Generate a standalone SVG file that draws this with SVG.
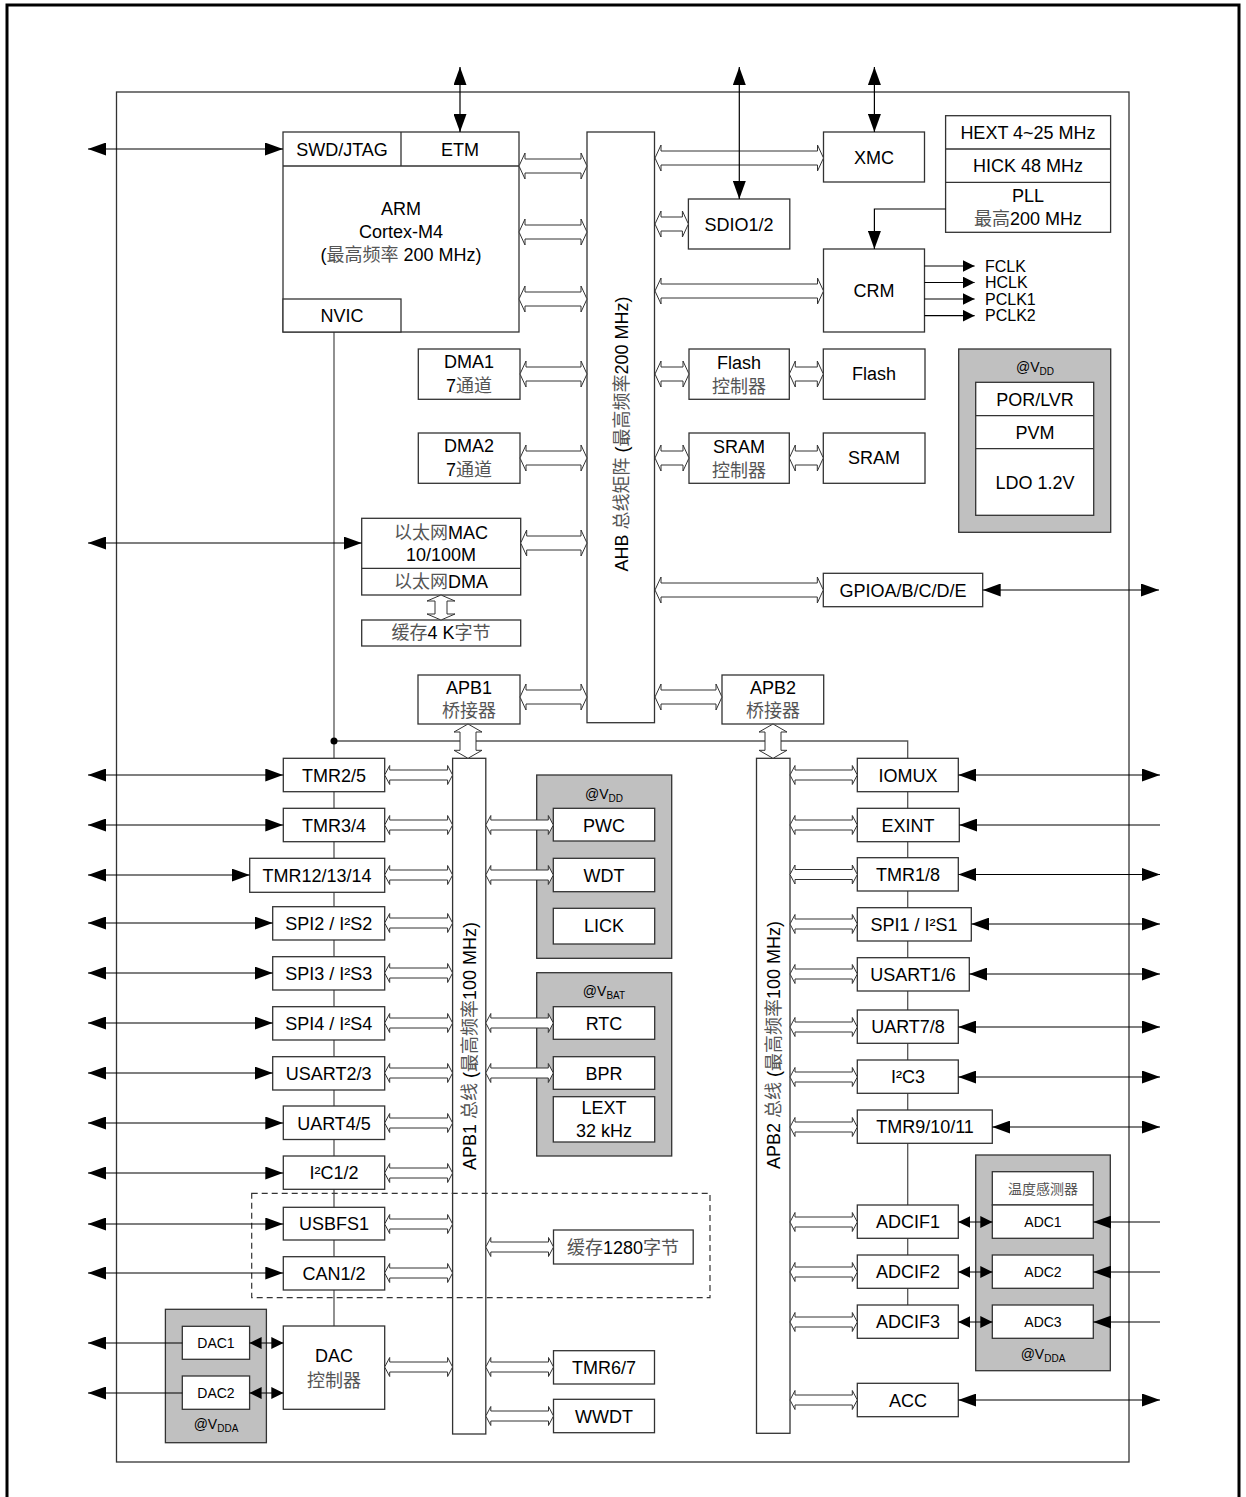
<svg xmlns="http://www.w3.org/2000/svg" width="1246" height="1497" viewBox="0 0 1246 1497">
<style>
.b{fill:#fff;stroke:#333;stroke-width:1.3}
.g{fill:#c0c0c0;stroke:#333;stroke-width:1.3}
.ho{fill:#fff;stroke:#333;stroke-width:1}
.ln{stroke:#000;stroke-width:1.2;fill:none}
.gl{stroke:#555;stroke-width:1.3;fill:none}
text{font-family:"Liberation Sans","Noto Sans CJK SC",sans-serif;font-size:18px;text-anchor:middle;fill:#000}
.cn{fill:#555}
.s{font-size:14px}
.st{text-anchor:start;font-size:16px}
</style>
<defs>
<marker id="ab" markerUnits="userSpaceOnUse" markerWidth="18" markerHeight="13" refX="18" refY="6.5" orient="auto-start-reverse"><path d="M0,0 L18,6.5 L0,13 z" fill="#000"/></marker>
<marker id="as" markerUnits="userSpaceOnUse" markerWidth="12" markerHeight="12" refX="12" refY="6" orient="auto-start-reverse"><path d="M0,0 L12,6 L0,12 z" fill="#000"/></marker>
</defs>
<rect width="1246" height="1497" fill="#fff"/>
<path d="M7,1500 V5 H1239 V1500" fill="none" stroke="#000" stroke-width="3"/>
<rect id="chip" x="116.5" y="92" width="1012.5" height="1370" fill="none" stroke="#333" stroke-width="1.3"/>

<g id="buslines">
<path class="gl" d="M334,332 V1326"/>
<path class="gl" d="M334,741 H907.7 V1305"/>
<circle cx="334" cy="741" r="3.5" fill="#000"/>
</g>

<g id="cortex">
<rect class="b" x="283" y="132" width="236" height="200"/>
<path class="b" d="M283,166 H519 M401,132 V166"/>
<rect class="b" x="283" y="299" width="118" height="33"/>
<text x="342" y="155.5">SWD/JTAG</text>
<text x="460" y="155.5">ETM</text>
<text x="401" y="215">ARM</text>
<text x="401" y="238">Cortex-M4</text>
<text x="401" y="261">(<tspan class="cn">最高频率</tspan> 200 MHz)</text>
<text x="342" y="321.5">NVIC</text>
</g>
<g id="ahb"><rect class="b" x="587" y="132" width="67.5" height="590.7"/>
<text transform="translate(628,434) rotate(-90)">AHB <tspan class="cn">总线矩阵</tspan> (<tspan class="cn">最高频率</tspan>200 MHz)</text></g>
<g id="xmc"><rect class="b" x="823.5" y="132" width="101" height="50"/><text x="874" y="163.5">XMC</text></g>
<g id="sdio"><rect class="b" x="688.4" y="199" width="101.4" height="50"/><text x="739" y="230.5">SDIO1/2</text></g>
<g id="clock"><rect class="b" x="945.6" y="115.7" width="165" height="116.6"/>
<path class="b" d="M945.6,149 H1110.6 M945.6,182.3 H1110.6"/>
<text x="1028" y="138.5">HEXT 4~25 MHz</text>
<text x="1028" y="172">HICK 48 MHz</text>
<text x="1028" y="202">PLL</text>
<text x="1028" y="224.5"><tspan class="cn">最高</tspan>200 MHz</text></g>
<g id="crm"><rect class="b" x="823.5" y="249" width="101" height="83"/><text x="874" y="297">CRM</text>
<text class="st" x="985" y="271.5">FCLK</text><text class="st" x="985" y="288">HCLK</text><text class="st" x="985" y="304.5">PCLK1</text><text class="st" x="985" y="321">PCLK2</text></g>
<g id="dma1"><rect class="b" x="418.3" y="349" width="101.7" height="50.3"/><text x="469" y="368">DMA1</text><text x="469" y="391.5">7<tspan class="cn">通道</tspan></text></g>
<g id="dma2"><rect class="b" x="418.3" y="433" width="101.7" height="50.3"/><text x="469" y="452">DMA2</text><text x="469" y="475.5">7<tspan class="cn">通道</tspan></text></g>
<g id="flashctrl"><rect class="b" x="689" y="349" width="100.3" height="50.3"/><text x="739" y="369">Flash</text><text x="739" y="392.5" class="cn">控制器</text></g>
<g id="flash"><rect class="b" x="823.3" y="349" width="101.7" height="50.3"/><text x="874" y="380">Flash</text></g>
<g id="sramctrl"><rect class="b" x="689" y="433" width="100.3" height="50.3"/><text x="739" y="453">SRAM</text><text x="739" y="476.5" class="cn">控制器</text></g>
<g id="sram"><rect class="b" x="823.3" y="433" width="101.7" height="50.3"/><text x="874" y="464">SRAM</text></g>
<g id="eth"><rect class="b" x="361.7" y="518.3" width="159" height="76.7"/><path class="b" d="M361.7,568.3 H520.7"/>
<text x="441" y="539"><tspan class="cn">以太网</tspan>MAC</text><text x="441" y="561">10/100M</text><text x="441" y="587.5"><tspan class="cn">以太网</tspan>DMA</text></g>
<g id="ethbuf"><rect class="b" x="361.7" y="620" width="159" height="26"/><text x="441" y="638.5"><tspan class="cn">缓存</tspan>4 K<tspan class="cn">字节</tspan></text></g>
<g id="gpio"><rect class="b" x="823.3" y="573.3" width="159.4" height="33.4"/><text x="903" y="596.5">GPIOA/B/C/D/E</text></g>
<g id="vdd1"><rect class="g" x="958.7" y="349" width="152" height="183.3"/><text class="s" x="1035" y="371.5">@V<tspan font-size="10" dy="3">DD</tspan></text>
<rect class="b" x="975.7" y="382.3" width="118" height="133"/><path class="b" d="M975.7,415.7 H1093.7 M975.7,448.7 H1093.7"/>
<text x="1035" y="405.5">POR/LVR</text><text x="1035" y="438.5">PVM</text><text x="1035" y="488.5">LDO 1.2V</text></g>
<g id="apb1br"><rect class="b" x="418" y="675" width="102" height="49"/><text x="469" y="694">APB1</text><text x="469" y="716.5" class="cn">桥接器</text></g>
<g id="apb2br"><rect class="b" x="722" y="675" width="101.7" height="49"/><text x="773" y="694">APB2</text><text x="773" y="716.5" class="cn">桥接器</text></g>
<g id="apb1"><rect class="b" x="452.6" y="758.3" width="33.2" height="675.7"/>
<text transform="translate(476,1046) rotate(-90)">APB1 <tspan class="cn">总线</tspan> (<tspan class="cn">最高频率</tspan>100 MHz)</text></g>
<g id="apb2"><rect class="b" x="756.5" y="758.3" width="33.5" height="675"/>
<text transform="translate(780,1045) rotate(-90)">APB2 <tspan class="cn">总线</tspan> (<tspan class="cn">最高频率</tspan>100 MHz)</text></g>

<g id="tmr25"><rect class="b" x="283.3" y="758.3" width="101.4" height="33.4"/><text x="334" y="781.5">TMR2/5</text></g>
<g id="tmr34"><rect class="b" x="283.3" y="808.3" width="101.4" height="33.4"/><text x="334" y="831.5">TMR3/4</text></g>
<g id="tmr12"><rect class="b" x="249.7" y="858.3" width="135" height="34"/><text x="317" y="881.5">TMR12/13/14</text></g>
<g id="spi2"><rect class="b" x="272.7" y="906.7" width="112" height="33.3"/><text x="328.7" y="929.5">SPI2 / I²S2</text></g>
<g id="spi3"><rect class="b" x="272.7" y="956.7" width="112" height="33.3"/><text x="328.7" y="979.5">SPI3 / I²S3</text></g>
<g id="spi4"><rect class="b" x="272.7" y="1006.7" width="112" height="33.3"/><text x="328.7" y="1029.5">SPI4 / I²S4</text></g>
<g id="usart23"><rect class="b" x="272.7" y="1056.7" width="112" height="33.3"/><text x="328.7" y="1079.5">USART2/3</text></g>
<g id="uart45"><rect class="b" x="283.3" y="1106" width="101.4" height="33.5"/><text x="334" y="1129.5">UART4/5</text></g>
<g id="i2c12"><rect class="b" x="283.3" y="1156" width="101.4" height="33.3"/><text x="334" y="1179">I²C1/2</text></g>
<rect id="usbgroup" x="251.7" y="1193.3" width="458.3" height="104.4" fill="none" stroke="#333" stroke-width="1.2" stroke-dasharray="6,4"/>
<g id="usbfs1"><rect class="b" x="283.3" y="1207.3" width="101.4" height="32.7"/><text x="334" y="1230">USBFS1</text></g>
<g id="can12"><rect class="b" x="283.3" y="1256.7" width="101.4" height="33.3"/><text x="334" y="1279.5">CAN1/2</text></g>
<g id="usbbuf"><rect class="b" x="553.5" y="1230" width="139.7" height="34"/><text x="623" y="1253.5"><tspan class="cn">缓存</tspan>1280<tspan class="cn">字节</tspan></text></g>
<g id="dacctrl"><rect class="b" x="283.3" y="1326" width="101.4" height="83.3"/><text x="334" y="1362">DAC</text><text x="334" y="1386.5" class="cn">控制器</text></g>
<g id="dacvdda"><rect class="g" x="165.4" y="1309.3" width="101" height="133.4"/>
<rect class="b" x="182.3" y="1326.3" width="67.3" height="33"/><text class="s" x="216" y="1348">DAC1</text>
<rect class="b" x="182.3" y="1376" width="67.3" height="33.3"/><text class="s" x="216" y="1398">DAC2</text>
<text class="s" x="216" y="1429">@V<tspan font-size="10" dy="3">DDA</tspan></text></g>
<g id="vdd2"><rect class="g" x="536.7" y="775" width="135" height="183.3"/><text class="s" x="604" y="798.5">@V<tspan font-size="10" dy="3">DD</tspan></text>
<rect class="b" x="553.3" y="808.3" width="101.4" height="32.7"/><text x="604" y="831.5">PWC</text>
<rect class="b" x="553.3" y="858.3" width="101.4" height="33.4"/><text x="604" y="881.5">WDT</text>
<rect class="b" x="553.3" y="908.3" width="101.4" height="35.7"/><text x="604" y="932">LICK</text></g>
<g id="vbat"><rect class="g" x="536.7" y="972.7" width="135" height="183.3"/><text class="s" x="604" y="996">@V<tspan font-size="10" dy="3">BAT</tspan></text>
<rect class="b" x="553.3" y="1006.7" width="101.4" height="32.6"/><text x="604" y="1029.5">RTC</text>
<rect class="b" x="553.3" y="1056.7" width="101.4" height="32.6"/><text x="604" y="1079.5">BPR</text>
<rect class="b" x="553.3" y="1096.7" width="101.4" height="45.3"/><text x="604" y="1114">LEXT</text><text x="604" y="1136.5">32 kHz</text></g>
<g id="tmr67"><rect class="b" x="553.5" y="1350.7" width="101" height="33.3"/><text x="604" y="1373.5">TMR6/7</text></g>
<g id="wwdt"><rect class="b" x="553.5" y="1399.3" width="101" height="33.4"/><text x="604" y="1422.5">WWDT</text></g>

<g id="iomux"><rect class="b" x="857.3" y="758.3" width="101" height="33.4"/><text x="908" y="781.5">IOMUX</text></g>
<g id="exint"><rect class="b" x="857.3" y="808.3" width="102" height="33.4"/><text x="908" y="831.5">EXINT</text></g>
<g id="tmr18"><rect class="b" x="857.3" y="857.7" width="101" height="33.3"/><text x="908" y="881">TMR1/8</text></g>
<g id="spi1"><rect class="b" x="857.3" y="907.7" width="114" height="33.3"/><text x="914" y="930.5">SPI1 / I²S1</text></g>
<g id="usart16"><rect class="b" x="857.3" y="957.7" width="112" height="33.3"/><text x="913" y="980.5">USART1/6</text></g>
<g id="uart78"><rect class="b" x="857.3" y="1010" width="101" height="33.3"/><text x="908" y="1033">UART7/8</text></g>
<g id="i2c3"><rect class="b" x="857.3" y="1060" width="101" height="33.3"/><text x="908" y="1083">I²C3</text></g>
<g id="tmr9"><rect class="b" x="857.3" y="1110" width="135" height="33.3"/><text x="925" y="1133">TMR9/10/11</text></g>
<g id="adcif1"><rect class="b" x="857.3" y="1205" width="101" height="33.3"/><text x="908" y="1228">ADCIF1</text></g>
<g id="adcif2"><rect class="b" x="857.3" y="1255" width="101" height="33.3"/><text x="908" y="1278">ADCIF2</text></g>
<g id="adcif3"><rect class="b" x="857.3" y="1305" width="101" height="33.3"/><text x="908" y="1328">ADCIF3</text></g>
<g id="acc"><rect class="b" x="857.3" y="1383.3" width="101" height="33.4"/><text x="908" y="1406.5">ACC</text></g>
<g id="adcvdda"><rect class="g" x="975.7" y="1155" width="134.6" height="215.7"/>
<rect class="b" x="992.3" y="1171.7" width="101" height="33.3"/><text class="s cn" x="1043" y="1193.5">温度感测器</text>
<rect class="b" x="992.3" y="1205" width="101" height="33.3"/><text class="s" x="1043" y="1226.7">ADC1</text>
<rect class="b" x="992.3" y="1255" width="101" height="33.3"/><text class="s" x="1043" y="1276.7">ADC2</text>
<rect class="b" x="992.3" y="1305" width="101" height="33.3"/><text class="s" x="1043" y="1326.7">ADC3</text>
<text class="s" x="1043" y="1358.5">@V<tspan font-size="10" dy="3">DDA</tspan></text></g>

<g id="connectors">
<g class="ho">
<path d="M519,166 l6,-13 v6 h56 v-6 l6,13 l-6,13 v-6 h-56 v6 z"/>
<path d="M519,232 l6,-13 v6 h56 v-6 l6,13 l-6,13 v-6 h-56 v6 z"/>
<path d="M519,299 l6,-13 v6 h56 v-6 l6,13 l-6,13 v-6 h-56 v6 z"/>
<path d="M655,158 l6,-13 v6 h156.5 v-6 l6,13 l-6,13 v-6 h-156.5 v6 z"/>
<path d="M655,224 l6,-13 v6 h21.4 v-6 l6,13 l-6,13 v-6 h-21.4 v6 z"/>
<path d="M655,291 l6,-13 v6 h156.5 v-6 l6,13 l-6,13 v-6 h-156.5 v6 z"/>
<path d="M520,374 l6,-13 v6 h55 v-6 l6,13 l-6,13 v-6 h-55 v6 z"/>
<path d="M520,458 l6,-13 v6 h55 v-6 l6,13 l-6,13 v-6 h-55 v6 z"/>
<path d="M655,374 l6,-13 v6 h22 v-6 l6,13 l-6,13 v-6 h-22 v6 z"/>
<path d="M789.3,374 l6,-13 v6 h22 v-6 l6,13 l-6,13 v-6 h-22 v6 z"/>
<path d="M655,458 l6,-13 v6 h22 v-6 l6,13 l-6,13 v-6 h-22 v6 z"/>
<path d="M789.3,458 l6,-13 v6 h22 v-6 l6,13 l-6,13 v-6 h-22 v6 z"/>
<path d="M520.7,543 l6,-13 v6 h54.3 v-6 l6,13 l-6,13 v-6 h-54.3 v6 z"/>
<path d="M655,590 l6,-13 v6 h156.3 v-6 l6,13 l-6,13 v-6 h-156.3 v6 z"/>
<path d="M520,697 l6,-13 v6 h55 v-6 l6,13 l-6,13 v-6 h-55 v6 z"/>
<path d="M655,697 l6,-13 v6 h55 v-6 l6,13 l-6,13 v-6 h-55 v6 z"/>
<path d="M441,595 l14,6 h-8 v13 h8 l-14,6 l-14,-6 h8 v-13 h-8 z"/>
<path d="M468,724 l14,8 h-6 v18.3 h6 l-14,8 l-14,-8 h6 v-18.3 h-6 z"/>
<path d="M773,724 l14,8 h-6 v18.3 h6 l-14,8 l-14,-8 h6 v-18.3 h-6 z"/>
<path d="M384.7,775 l5,-9.5 v4.5 h57.9 v-4.5 l5,9.5 l-5,9.5 v-4.5 h-57.9 v4.5 z"/>
<path d="M384.7,825 l5,-9.5 v4.5 h57.9 v-4.5 l5,9.5 l-5,9.5 v-4.5 h-57.9 v4.5 z"/>
<path d="M384.7,875 l5,-9.5 v4.5 h57.9 v-4.5 l5,9.5 l-5,9.5 v-4.5 h-57.9 v4.5 z"/>
<path d="M384.7,923 l5,-9.5 v4.5 h57.9 v-4.5 l5,9.5 l-5,9.5 v-4.5 h-57.9 v4.5 z"/>
<path d="M384.7,973 l5,-9.5 v4.5 h57.9 v-4.5 l5,9.5 l-5,9.5 v-4.5 h-57.9 v4.5 z"/>
<path d="M384.7,1023 l5,-9.5 v4.5 h57.9 v-4.5 l5,9.5 l-5,9.5 v-4.5 h-57.9 v4.5 z"/>
<path d="M384.7,1073 l5,-9.5 v4.5 h57.9 v-4.5 l5,9.5 l-5,9.5 v-4.5 h-57.9 v4.5 z"/>
<path d="M384.7,1123 l5,-9.5 v4.5 h57.9 v-4.5 l5,9.5 l-5,9.5 v-4.5 h-57.9 v4.5 z"/>
<path d="M384.7,1173 l5,-9.5 v4.5 h57.9 v-4.5 l5,9.5 l-5,9.5 v-4.5 h-57.9 v4.5 z"/>
<path d="M384.7,1224 l5,-9.5 v4.5 h57.9 v-4.5 l5,9.5 l-5,9.5 v-4.5 h-57.9 v4.5 z"/>
<path d="M384.7,1273 l5,-9.5 v4.5 h57.9 v-4.5 l5,9.5 l-5,9.5 v-4.5 h-57.9 v4.5 z"/>
<path d="M384.7,1367 l5,-9.5 v4.5 h57.9 v-4.5 l5,9.5 l-5,9.5 v-4.5 h-57.9 v4.5 z"/>
<path d="M485.8,825 l5,-9.5 v4.5 h57.5 v-4.5 l5,9.5 l-5,9.5 v-4.5 h-57.5 v4.5 z"/>
<path d="M485.8,875 l5,-9.5 v4.5 h57.5 v-4.5 l5,9.5 l-5,9.5 v-4.5 h-57.5 v4.5 z"/>
<path d="M485.8,1023 l5,-9.5 v4.5 h57.5 v-4.5 l5,9.5 l-5,9.5 v-4.5 h-57.5 v4.5 z"/>
<path d="M485.8,1073 l5,-9.5 v4.5 h57.5 v-4.5 l5,9.5 l-5,9.5 v-4.5 h-57.5 v4.5 z"/>
<path d="M485.8,1247 l5,-9.5 v4.5 h57.7 v-4.5 l5,9.5 l-5,9.5 v-4.5 h-57.7 v4.5 z"/>
<path d="M485.8,1367 l5,-9.5 v4.5 h57.7 v-4.5 l5,9.5 l-5,9.5 v-4.5 h-57.7 v4.5 z"/>
<path d="M485.8,1416 l5,-9.5 v4.5 h57.7 v-4.5 l5,9.5 l-5,9.5 v-4.5 h-57.7 v4.5 z"/>
<path d="M790,775 l5,-9.5 v4.5 h57.3 v-4.5 l5,9.5 l-5,9.5 v-4.5 h-57.3 v4.5 z"/>
<path d="M790,825 l5,-9.5 v4.5 h57.3 v-4.5 l5,9.5 l-5,9.5 v-4.5 h-57.3 v4.5 z"/>
<path d="M790,874.5 l5,-9.5 v4.5 h57.3 v-4.5 l5,9.5 l-5,9.5 v-4.5 h-57.3 v4.5 z"/>
<path d="M790,924 l5,-9.5 v4.5 h57.3 v-4.5 l5,9.5 l-5,9.5 v-4.5 h-57.3 v4.5 z"/>
<path d="M790,974 l5,-9.5 v4.5 h57.3 v-4.5 l5,9.5 l-5,9.5 v-4.5 h-57.3 v4.5 z"/>
<path d="M790,1027 l5,-9.5 v4.5 h57.3 v-4.5 l5,9.5 l-5,9.5 v-4.5 h-57.3 v4.5 z"/>
<path d="M790,1077 l5,-9.5 v4.5 h57.3 v-4.5 l5,9.5 l-5,9.5 v-4.5 h-57.3 v4.5 z"/>
<path d="M790,1127 l5,-9.5 v4.5 h57.3 v-4.5 l5,9.5 l-5,9.5 v-4.5 h-57.3 v4.5 z"/>
<path d="M790,1222 l5,-9.5 v4.5 h57.3 v-4.5 l5,9.5 l-5,9.5 v-4.5 h-57.3 v4.5 z"/>
<path d="M790,1272 l5,-9.5 v4.5 h57.3 v-4.5 l5,9.5 l-5,9.5 v-4.5 h-57.3 v4.5 z"/>
<path d="M790,1322 l5,-9.5 v4.5 h57.3 v-4.5 l5,9.5 l-5,9.5 v-4.5 h-57.3 v4.5 z"/>
<path d="M790,1400 l5,-9.5 v4.5 h57.3 v-4.5 l5,9.5 l-5,9.5 v-4.5 h-57.3 v4.5 z"/>
</g>
<g class="ln" marker-start="url(#ab)" marker-end="url(#ab)">
<path d="M88,149 H283"/>
<path d="M460,67 V132"/>
<path d="M739.3,67 V199"/>
<path d="M874.4,67 V132"/>
<path d="M88,543 H361.7"/>
<path d="M982.7,590 H1159"/>
<path d="M88,775 H283.3"/>
<path d="M88,825 H283.3"/>
<path d="M88,875 H249.7"/>
<path d="M88,923 H272.7"/>
<path d="M88,973 H272.7"/>
<path d="M88,1023 H272.7"/>
<path d="M88,1073 H272.7"/>
<path d="M88,1123 H283.3"/>
<path d="M88,1173 H283.3"/>
<path d="M88,1224 H283.3"/>
<path d="M88,1273 H283.3"/>
<path d="M958.3,775 H1160"/>
<path d="M958.3,874.5 H1160"/>
<path d="M971.3,924 H1160"/>
<path d="M969.3,974 H1160"/>
<path d="M958.3,1027 H1160"/>
<path d="M958.3,1077 H1160"/>
<path d="M992.3,1127 H1160"/>
<path d="M958.3,1400 H1160"/>
</g>
<g class="ln" marker-end="url(#ab)">
<path d="M945.6,209 H874.4 V249"/>
<path d="M1160,825 H959.3"/>
<path d="M182.3,1343 H88"/>
<path d="M182.3,1393 H88"/>
<path d="M1160,1222 H1093.3"/>
<path d="M1160,1272 H1093.3"/>
<path d="M1160,1322 H1093.3"/>
</g>
<g class="ln" marker-end="url(#as)">
<path d="M924.5,266 H974.6"/>
<path d="M924.5,282.5 H974.6"/>
<path d="M924.5,299 H974.6"/>
<path d="M924.5,315.7 H974.6"/>
</g>
<g class="ln" marker-start="url(#as)" marker-end="url(#as)">
<path d="M249.6,1343 H283.3"/>
<path d="M249.6,1393 H283.3"/>
<path d="M958.3,1222 H992.3"/>
<path d="M958.3,1272 H992.3"/>
<path d="M958.3,1322 H992.3"/>
</g>
</g>
</svg>
